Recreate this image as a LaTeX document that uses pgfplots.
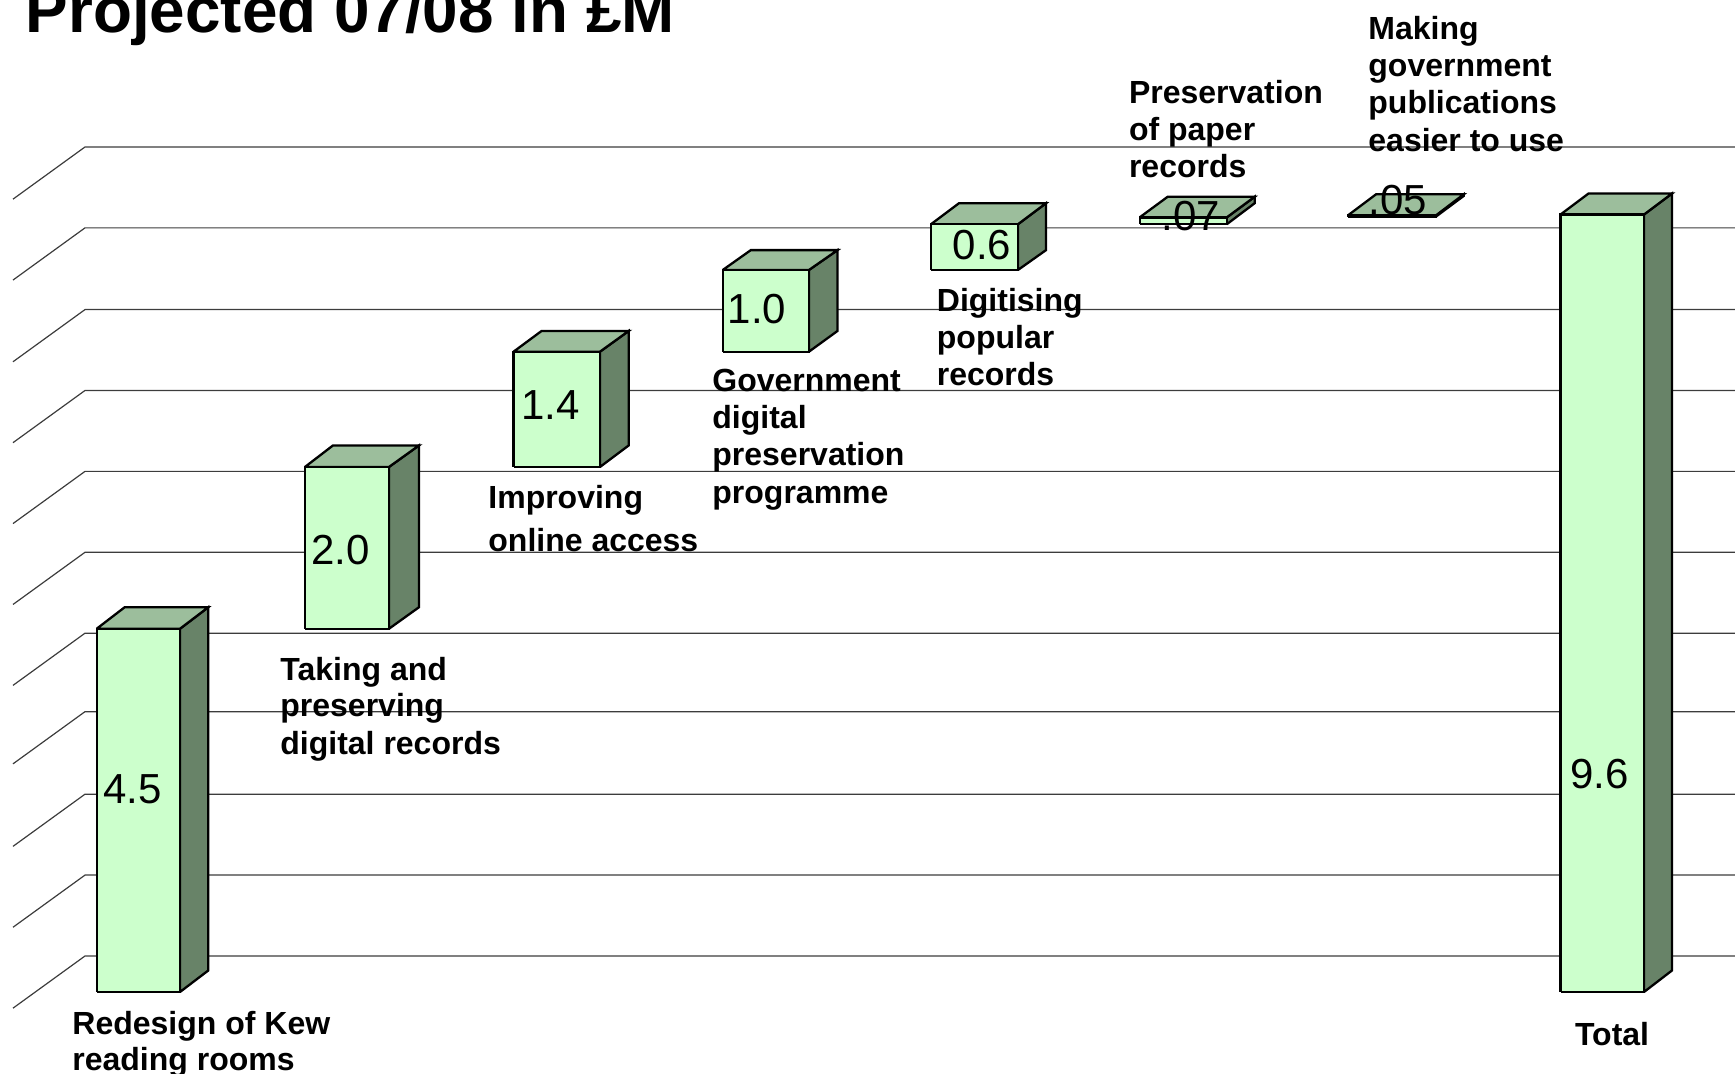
\documentclass[border=0pt]{standalone}
\usepackage{fontspec}
\setmainfont{Liberation Sans}
\usepackage{pgfplots}
\pgfplotsset{compat=1.18}
\definecolor{barfront}{HTML}{CCFFCC}
\definecolor{bartop}{HTML}{9CBE9C}
\definecolor{barside}{HTML}{688368}
\definecolor{gridl}{HTML}{3C3C3C}

% wall and back line of one gridline: value at the back wall
\newcommand{\gline}[2]{\addplot[gridl,line width=0.6pt,no marks] coordinates {(13,#1) (85,#2) (1735,#2)};}
% x0 x1 xback, base top, base top at the back
\newcommand{\cube}[7]{%
  \addplot[fill=barside,draw=black,line width=1.15pt,no marks] coordinates {(#2,#4) (#3,#6) (#3,#7) (#2,#5) (#2,#4)};
  \addplot[fill=bartop,draw=black,line width=1.15pt,no marks] coordinates {(#1,#5) (#2,#5) (#3,#7) (#1+28,#7) (#1,#5)};
  \addplot[fill=barfront,draw=black,line width=1.15pt,no marks] coordinates {(#1,#4) (#2,#4) (#2,#5) (#1,#5) (#1,#4)};
}
% x, pixel baseline from the top, text
\newcommand{\lab}[3]{\node[anchor=base west,inner sep=0pt,font=\fontsize{16}{18}\selectfont\bfseries] at (axis cs:#1,{(992-#2)/80.9}) {#3};}
\newcommand{\val}[3]{\node[anchor=base west,inner sep=0pt,font=\fontsize{21}{24}\selectfont,text=black] at (axis cs:#1,{(992-#2)/80.9}) {#3};}

\begin{document}
\begin{tikzpicture}
\clip[use as bounding box] (0,0) rectangle (867.5pt,537pt);
\begin{axis}[
  at={(0,0)},anchor=south west,scale only axis,
  width=867.5pt,height=537pt,
  xmin=0,xmax=1735,ymin=-1.0136,ymax=12.262,
  hide axis,clip=false]
\gline{-0.2}{0.445}
\gline{0.8}{1.445}
\gline{1.8}{2.445}
\gline{2.82}{3.465}
\gline{3.79}{4.435}
\gline{4.79}{5.435}
\gline{5.79}{6.435}
\gline{6.79}{7.435}
\gline{7.79}{8.435}
\gline{8.8}{9.445}
\gline{9.8}{10.445}

\cube{96.7}{180}{208.3}{0}{4.49}{0.266}{4.756}
\cube{305}{389}{419}{4.49}{6.49}{4.756}{6.756}
\cube{513.6}{600}{628.7}{6.49}{7.915}{6.756}{8.171}
\cube{722.8}{809}{837.5}{7.915}{8.925}{8.171}{9.17}
\cube{931}{1018}{1046}{8.925}{9.49}{9.17}{9.75}
\cube{1139.7}{1226.8}{1254.7}{9.49}{9.575}{9.75}{9.83}
\cube{1348}{1436}{1463.7}{9.585}{9.6}{9.84}{9.86}
\cube{1560.5}{1644}{1672}{0}{9.61}{0.266}{9.87}

\val{103}{804}{4.5}
\val{311}{565}{2.0}
\val{521}{420}{1.4}
\val{727.5}{324}{1.0}
\val{952.5}{260}{0.6}
\val{1161}{230.5}{.07}
\val{1368}{215}{.05}
\val{1570}{789}{9.6}

\lab{72}{1034.5}{Redesign of Kew}
\lab{72}{1071}{reading rooms}
\lab{280}{681}{Taking and}
\lab{280}{717}{preserving}
\lab{280}{754.5}{digital records}
\lab{488}{509}{Improving}
\lab{488}{551.5}{online access}
\lab{712}{392}{Government}
\lab{712}{429}{digital}
\lab{712}{466}{preservation}
\lab{712}{504}{programme}
\lab{936.5}{312}{Digitising}
\lab{936.5}{349}{popular}
\lab{936.5}{386}{records}
\lab{1128.6}{104}{Preservation}
\lab{1128.6}{141}{of paper}
\lab{1128.6}{178}{records}
\lab{1368}{40}{Making}
\lab{1368}{77}{government}
\lab{1368}{114}{publications}
\lab{1368}{152}{easier to use}
\lab{1574.6}{1045.5}{Total}

\node[anchor=base west,inner sep=0pt,font=\fontsize{31.9}{36}\selectfont\bfseries] at (axis cs:25.5,{(992-33)/80.9}) {Projected 07/08 in £M};
\end{axis}
\end{tikzpicture}
\end{document}
